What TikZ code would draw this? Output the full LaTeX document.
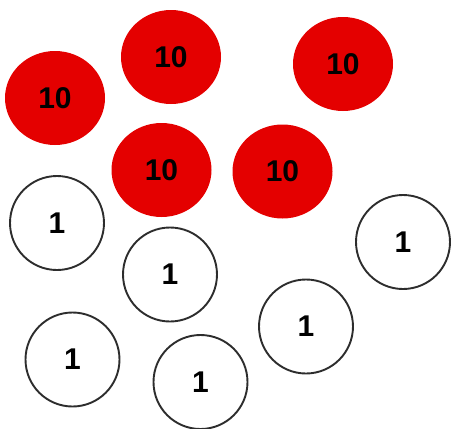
\documentclass[tikz,border=0pt]{standalone}
\usepackage{fontspec}
\setmainfont{Liberation Sans}
\usetikzlibrary{shapes.geometric}
\definecolor{tokred}{RGB}{228,0,0}
\definecolor{tokline}{RGB}{45,45,45}
\tikzset{
  redtok/.style={ellipse, fill=tokred, minimum width=100pt, minimum height=94pt, inner sep=0pt, font=\fontsize{30}{32}\selectfont\bfseries},
  whitetok/.style={circle, draw=tokline, line width=1.9pt, fill=white, minimum size=94pt, inner sep=0pt, font=\fontsize{30}{32}\selectfont\bfseries}
}
\begin{document}
\begin{tikzpicture}[x=1pt,y=-1pt]
\useasboundingbox (0,0) rectangle (451,429);
\node[redtok] (r1) at (55,98) {10};
\node[redtok] (r2) at (171,57) {10};
\node[redtok] (r3) at (343,64) {10};
\node[redtok] (r4) at (161.5,170) {10};
\node[redtok] (r5) at (282.5,171.5) {10};
\node[whitetok] (w1) at (57,223) {1};
\node[whitetok] (w2) at (170,274.5) {1};
\node[whitetok] (w3) at (403,242) {1};
\node[whitetok] (w4) at (306,326.5) {1};
\node[whitetok] (w5) at (72.5,359.5) {1};
\node[whitetok] (w6) at (200.5,382) {1};
\end{tikzpicture}
\end{document}
